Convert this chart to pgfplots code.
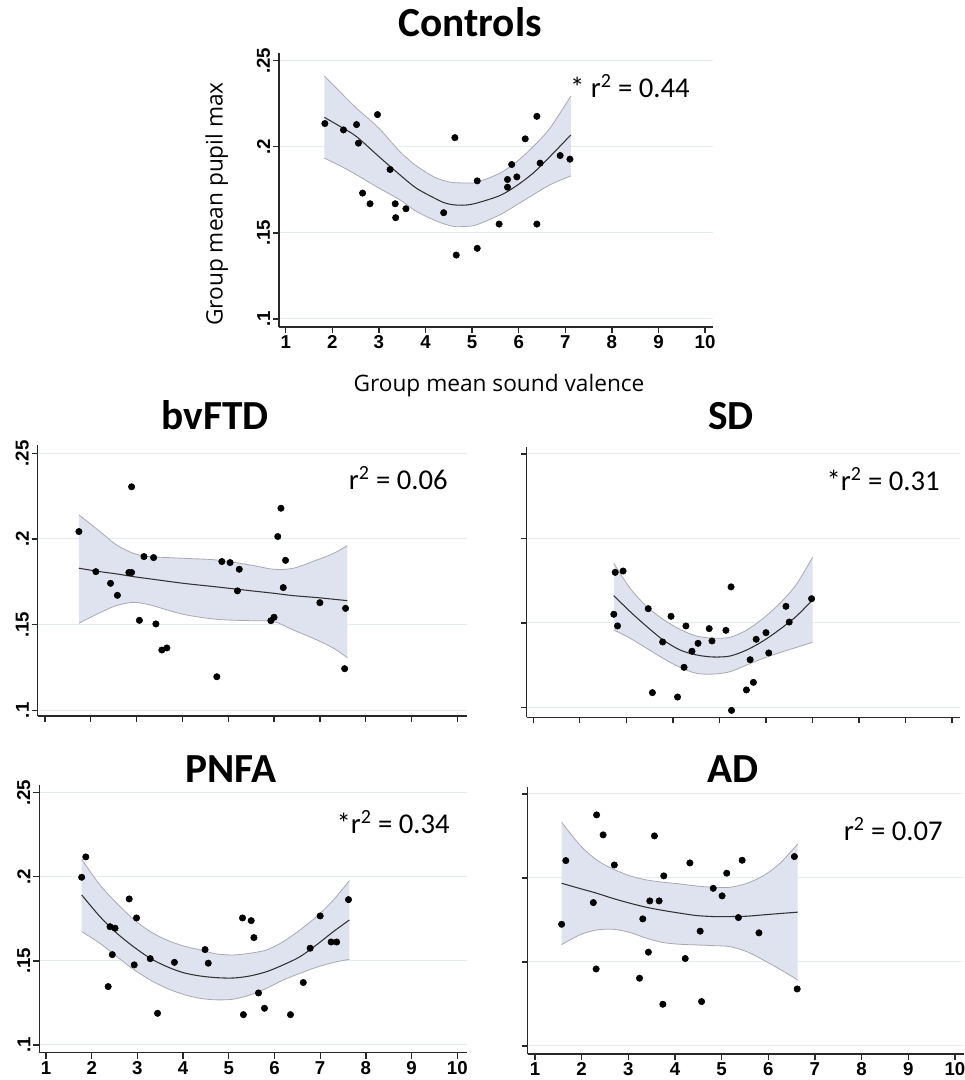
\documentclass[border=0pt]{standalone}
\usepackage{fontspec}
\setmainfont{Carlito}
\newfontfamily\tickfont{Liberation Sans}
\newfontfamily\labfont{Open Sans}
\usepackage{pgfplots}
\pgfplotsset{compat=1.18}
\usepackage{pgfplotstable}
\usepgfplotslibrary{fillbetween}

\definecolor{bandc}{RGB}{223,227,239}
\definecolor{edgec}{RGB}{168,170,176}
\definecolor{gridc}{RGB}{226,238,238}
\definecolor{axc}{RGB}{40,40,40}

\newcommand{\tickfnt}{\tickfont\bfseries\fontsize{14pt}{16pt}\selectfont}
\newcommand{\titlefnt}{\bfseries\fontsize{31pt}{36pt}\selectfont}
\newcommand{\rfnt}{\fontsize{21.5pt}{25pt}\selectfont}
\newcommand{\labfnt}{\labfont\fontsize{17pt}{20pt}\selectfont}

% scatter points
\pgfplotstableread{
x y
1.84 0.2135
2.24 0.2098
2.52 0.2129
2.56 0.2021
2.65 0.1731
2.81 0.1669
2.97 0.2187
3.24 0.1868
3.35 0.1669
3.36 0.1588
3.58 0.1640
4.39 0.1617
4.63 0.2053
4.66 0.1371
5.11 0.1802
5.11 0.1410
5.58 0.1551
5.76 0.1810
5.76 0.1765
5.85 0.1897
5.96 0.1825
6.14 0.2046
6.39 0.2177
6.39 0.1551
6.46 0.1905
6.89 0.1949
7.10 0.1928
}\ptsC

\pgfplotstableread{
x y
1.74 0.2043
2.11 0.1809
2.43 0.1741
2.58 0.1671
2.83 0.1804
2.89 0.1804
2.89 0.2304
3.06 0.1525
3.16 0.1897
3.37 0.1891
3.42 0.1504
3.55 0.1352
3.66 0.1364
4.75 0.1196
4.86 0.1868
5.04 0.1862
5.20 0.1697
5.24 0.1823
5.93 0.1523
6.00 0.1543
6.08 0.2014
6.15 0.2179
6.20 0.1716
6.25 0.1875
7.00 0.1628
7.54 0.1243
7.56 0.1595
}\ptsB

\pgfplotstableread{
x y
2.76 0.1799
2.93 0.1807
2.73 0.1551
2.81 0.1482
3.47 0.1584
3.56 0.1087
3.78 0.1387
3.96 0.1539
4.10 0.1061
4.24 0.1237
4.28 0.1482
4.41 0.1332
4.54 0.1379
4.78 0.1466
4.84 0.1393
5.14 0.1456
5.25 0.1713
5.26 0.0982
5.58 0.1103
5.66 0.1282
5.73 0.1148
5.79 0.1403
6.00 0.1442
6.06 0.1322
6.43 0.1598
6.50 0.1505
6.98 0.1643
}\ptsS

\pgfplotstableread{
x y
1.78 0.1997
1.87 0.2118
2.40 0.1703
2.51 0.1694
2.45 0.1537
2.36 0.1347
2.82 0.1868
2.98 0.1755
2.93 0.1476
3.28 0.1513
3.44 0.1188
3.81 0.1491
4.48 0.1567
4.55 0.1486
5.30 0.1755
5.32 0.1180
5.49 0.1739
5.55 0.1638
5.65 0.1309
5.78 0.1218
6.35 0.1180
6.63 0.1371
6.78 0.1575
7.00 0.1767
7.24 0.1612
7.36 0.1612
7.62 0.1864
}\ptsP

\pgfplotstableread{
x y
1.57 0.1724
1.66 0.2103
2.25 0.1853
2.31 0.1458
2.32 0.2375
2.46 0.2256
2.70 0.2077
3.24 0.1403
3.31 0.1756
3.43 0.1558
3.46 0.1863
3.56 0.2250
3.66 0.1863
3.74 0.1248
3.76 0.2012
4.22 0.1520
4.32 0.2089
4.54 0.1683
4.57 0.1264
4.82 0.1938
5.01 0.1893
5.11 0.2028
5.36 0.1764
5.44 0.2105
5.80 0.1673
6.56 0.2127
6.62 0.1339
}\ptsA

% fitted curve (m) with upper (u) and lower (l) confidence limits
\pgfplotstableread{
x m u l
1.83 0.2171 0.2411 0.1934
2.20 0.2113 0.2310 0.1885
2.52 0.2059 0.2224 0.1837
3.00 0.1943 0.2108 0.1760
3.45 0.1837 0.1972 0.1692
3.80 0.1760 0.1890 0.1625
4.17 0.1705 0.1827 0.1576
4.40 0.1675 0.1803 0.1552
4.60 0.1663 0.1792 0.1537
4.85 0.1661 0.1790 0.1537
5.10 0.1673 0.1794 0.1547
5.60 0.1717 0.1847 0.1605
5.96 0.1775 0.1914 0.1663
6.31 0.1847 0.2001 0.1721
6.67 0.1943 0.2108 0.1779
7.12 0.2069 0.2295 0.1831
}\fitC

\pgfplotstableread{
x m u l
1.74 0.1829 0.2140 0.1508
2.20 0.1809 0.2043 0.1570
2.56 0.1796 0.1965 0.1611
2.93 0.1780 0.1916 0.1630
3.29 0.1767 0.1897 0.1615
4.02 0.1741 0.1887 0.1560
4.75 0.1720 0.1877 0.1531
5.48 0.1698 0.1848 0.1523
5.99 0.1683 0.1823 0.1518
6.42 0.1669 0.1829 0.1469
6.93 0.1658 0.1877 0.1411
7.30 0.1648 0.1916 0.1362
7.60 0.1640 0.1961 0.1307
}\fitB

\pgfplotstableread{
x m u l
2.73 0.1661 0.1853 0.1458
3.08 0.1567 0.1705 0.1409
3.44 0.1478 0.1596 0.1349
3.79 0.1399 0.1521 0.1290
4.15 0.1340 0.1462 0.1237
4.51 0.1310 0.1422 0.1201
4.87 0.1298 0.1409 0.1197
5.23 0.1304 0.1415 0.1211
5.59 0.1340 0.1458 0.1251
5.94 0.1393 0.1527 0.1290
6.30 0.1462 0.1616 0.1324
6.66 0.1541 0.1730 0.1355
7.00 0.1636 0.1888 0.1385
}\fitS

\pgfplotstableread{
x m u l
1.78 0.1892 0.2104 0.1674
2.18 0.1763 0.1951 0.1604
2.55 0.1664 0.1842 0.1525
2.91 0.1585 0.1749 0.1450
3.28 0.1515 0.1674 0.1386
3.64 0.1466 0.1624 0.1337
4.00 0.1430 0.1589 0.1301
4.37 0.1410 0.1565 0.1277
4.73 0.1400 0.1541 0.1268
5.10 0.1398 0.1535 0.1272
5.46 0.1410 0.1545 0.1297
5.83 0.1436 0.1565 0.1337
6.19 0.1476 0.1614 0.1386
6.56 0.1525 0.1684 0.1426
6.92 0.1595 0.1763 0.1462
7.29 0.1674 0.1862 0.1490
7.64 0.1743 0.1977 0.1509
}\fitP

\pgfplotstableread{
x m u l
1.57 0.1968 0.2331 0.1603
1.96 0.1937 0.2196 0.1661
2.32 0.1909 0.2107 0.1690
2.68 0.1877 0.2052 0.1694
3.04 0.1849 0.2012 0.1675
3.39 0.1825 0.1988 0.1641
3.75 0.1806 0.1974 0.1615
4.11 0.1790 0.1964 0.1605
4.46 0.1776 0.1952 0.1601
4.82 0.1770 0.1944 0.1597
5.18 0.1770 0.1944 0.1591
5.54 0.1772 0.1968 0.1561
5.89 0.1780 0.2012 0.1512
6.25 0.1788 0.2087 0.1456
6.63 0.1796 0.2202 0.1393
}\fitA

\pgfplotsset{
  panel/.style={
    scale only axis, anchor=south west, set layers,
    axis x line*=bottom, axis y line*=left,
    axis line style={-, draw=axc, line width=1pt},
    tick align=outside, major tick length=4.5pt,
    tick style={draw=axc, line width=1pt},
    xtick={1,2,...,10}, ytick={0.1,0.15,0.2,0.25},
    ymajorgrids, grid style={draw=gridc, line width=0.8pt},
    xticklabel style={font=\tickfnt, inner sep=2pt},
    yticklabel style={font=\tickfnt, rotate=90, anchor=south, inner sep=2pt},
  },
  xnums/.style={xticklabels={1,2,3,4,5,6,7,8,9,10}},
  ynums/.style={yticklabels={.1,.15,.2,.25}},
  xnone/.style={xticklabel style={opacity=0}},
  ynone/.style={yticklabel style={opacity=0}},
  edge/.style={draw=edgec, line width=0.6pt, smooth, no marks},
  fit/.style={draw=black!80, line width=0.8pt, smooth, no marks},
  dots/.style={only marks, mark=*, mark size=2.4pt, mark options={draw=black, fill=black}},
}

\newcommand{\panelplots}[2]{%
  \addplot[edge, name path=U] table[x=x, y=u] {#1};
  \addplot[edge, name path=L] table[x=x, y=l] {#1};
  \addplot[fill=bandc, draw=none] fill between[of=U and L];
  \addplot[fit] table[x=x, y=m] {#1};
  \addplot[dots] table[x=x, y=y] {#2};
}

\begin{document}
\begin{tikzpicture}

% Controls
\begin{axis}[panel, xnums, ynums, at={(209.25pt,564.75pt)},
  width=325.5pt, height=205.5pt,
  xmin=0.856, xmax=10.17, ymin=0.0953, ymax=0.2545]
  \panelplots{\fitC}{\ptsC}
\end{axis}

% bvFTD
\begin{axis}[panel, xnone, ynums, at={(28.3pt,273pt)},
  width=321.75pt, height=203.25pt,
  xmin=0.841, xmax=10.205, ymin=0.0967, ymax=0.2548]
  \panelplots{\fitB}{\ptsB}
\end{axis}

% SD
\begin{axis}[panel, xnone, ynone, at={(395pt,272pt)},
  width=325pt, height=203pt,
  xmin=0.858, xmax=10.17, ymin=0.0941, ymax=0.2543]
  \panelplots{\fitS}{\ptsS}
\end{axis}

% PNFA
\begin{axis}[panel, xnums, ynums, at={(29.5pt,20.5pt)},
  width=320.5pt, height=200.8pt,
  xmin=0.853, xmax=10.206, ymin=0.0954, ymax=0.2546]
  \panelplots{\fitP}{\ptsP}
\end{axis}

% AD
\begin{axis}[panel, xnums, ynone, at={(395.8pt,19.5pt)},
  width=327pt, height=200.5pt,
  xmin=0.844, xmax=10.19, ymin=0.0952, ymax=0.2543]
  \panelplots{\fitA}{\ptsA}
\end{axis}

% titles
\node[font=\titlefnt, anchor=base, inner sep=0pt] at (352.5pt,782.25pt) {Controls};
\node[font=\titlefnt, anchor=base, inner sep=0pt] at (161.25pt,487.5pt) {bvFTD};
\node[font=\titlefnt, anchor=base, inner sep=0pt] at (548.25pt,487.5pt) {SD};
\node[font=\titlefnt, anchor=base, inner sep=0pt] at (173.25pt,222.75pt) {PNFA};
\node[font=\titlefnt, anchor=base, inner sep=0pt] at (549.75pt,222.75pt) {AD};

% r squared
\node[font=\rfnt, anchor=base east, inner sep=0pt] at (517.5pt,736.5pt) {* r\textsuperscript{2} = 0.44};
\node[font=\rfnt, anchor=base east, inner sep=0pt] at (336pt,442.5pt) {r\textsuperscript{2} = 0.06};
\node[font=\rfnt, anchor=base east, inner sep=0pt] at (705pt,441.75pt) {*r\textsuperscript{2} = 0.31};
\node[font=\rfnt, anchor=base east, inner sep=0pt] at (337.5pt,184.5pt) {*r\textsuperscript{2} = 0.34};
\node[font=\rfnt, anchor=base east, inner sep=0pt] at (707.25pt,179.25pt) {r\textsuperscript{2} = 0.07};

% axis titles of the top panel
\node[font=\labfnt, rotate=90, inner sep=0pt] at (162.5pt,657pt) {Group mean pupil max};
\node[font=\labfnt, anchor=base, inner sep=0pt] at (374.25pt,516.2pt) {Group mean sound valence};

% page = 964 x 1080 px at 0.75pt per px
\pgfresetboundingbox
\path[use as bounding box] (0,0) rectangle (723pt,810pt);
\end{tikzpicture}
\end{document}
